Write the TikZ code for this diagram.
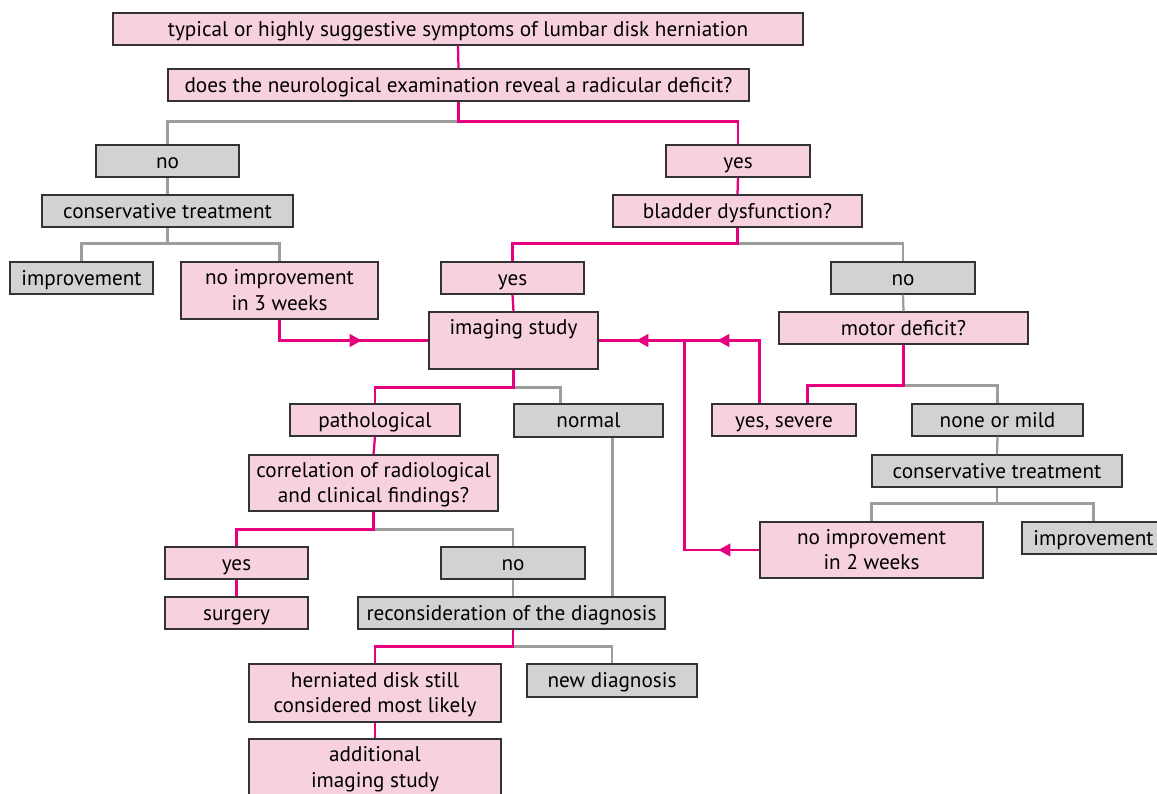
\documentclass[tikz,border=0pt]{standalone}
\usepackage{fontspec}
\setmainfont{PT Sans}
\usetikzlibrary{arrows.meta,decorations.markings,calc}

\definecolor{pinkfill}{HTML}{F7D1E0}
\definecolor{grayfill}{HTML}{D1D2D4}
\definecolor{magline}{HTML}{E6007E}
\definecolor{grayline}{HTML}{9D9D9D}
\definecolor{boxline}{HTML}{333333}

% a strut a little taller on top, so the text sits slightly low in its box
\newcommand\topstrut{\rule[-\dp\strutbox]{0pt}{\dimexpr\ht\strutbox+\dp\strutbox+3pt\relax}}

% box from its corners (x1,y1)-(x2,y2), in picture units
\newcommand\flowbox[7]{%
  \node[#1, minimum width={(#5-#3)*0.75pt}, minimum height={(#6-#4)*0.75pt}]
    (#2) at ({(#3+#5)/2},{(#4+#6)/2}) {\topstrut#7\strut};}

\tikzset{
  box/.style={draw=boxline, line width=0.9pt, inner sep=0pt, align=center,
    font=\fontsize{15.9}{18.9}\selectfont},
  pbox/.style={box, fill=pinkfill},
  gbox/.style={box, fill=grayfill},
  pl/.style={draw=magline, line width=1.7pt},
  gl/.style={draw=grayline, line width=1.7pt},
  arrow at/.style={postaction={decorate, decoration={markings,
    mark=at position #1 with {\arrow{Triangle[length=9pt,width=9.5pt]}}}}},
}

\begin{document}
\begin{tikzpicture}[x=0.75pt, y=-0.75pt]
\clip (0,0) rectangle (1157,793);

% ---- boxes ----
\flowbox{pbox}{top}{113}{13}{803}{45}{typical or highly suggestive symptoms of lumbar disk herniation}
\flowbox{pbox}{q}{168}{69}{749}{101}{does the neurological examination reveal a radicular deficit?}
\flowbox{gbox}{noL}{96}{145}{239}{177}{no}
\flowbox{pbox}{yesR}{666}{145}{810}{177}{yes}
\flowbox{gbox}{consL}{42}{195}{293}{227}{conservative treatment}
\flowbox{pbox}{bladder}{613}{195}{862}{227}{bladder dysfunction?}
\flowbox{gbox}{impL}{10}{262}{153}{294}{improvement}
\flowbox{pbox}{noimp3}{181}{262}{378}{319}{no improvement\\in 3 weeks}
\flowbox{pbox}{yesM}{441}{262}{584}{294}{yes}
\flowbox{gbox}{noR}{831}{262}{975}{294}{no}
\flowbox{pbox}{imaging}{429}{312}{598}{369}{imaging study\\\mbox{}}
\flowbox{pbox}{motor}{779}{312}{1028}{344}{motor deficit?}
\flowbox{pbox}{path}{290}{404}{460}{436}{pathological}
\flowbox{gbox}{normal}{514}{404}{663}{437}{normal}
\flowbox{pbox}{yesSev}{712}{404}{856}{436}{yes, severe}
\flowbox{gbox}{none}{912}{404}{1083}{436}{none or mild}
\flowbox{gbox}{consR}{872}{455}{1122}{487}{conservative treatment}
\flowbox{pbox}{corr}{249}{455}{498}{511}{correlation of radiological\\and clinical findings?}
\flowbox{pbox}{noimp2}{760}{522}{983}{578}{no improvement\\in 2 weeks}
\flowbox{gbox}{impR}{1022}{522}{1165}{554}{improvement}
\flowbox{pbox}{yesC}{165}{547}{308}{579}{yes}
\flowbox{gbox}{noC}{441}{547}{585}{579}{no}
\flowbox{pbox}{surgery}{165}{597}{308}{629}{surgery}
\flowbox{gbox}{recon}{358}{597}{665}{629}{reconsideration of the diagnosis}
\flowbox{pbox}{herni}{249}{664}{501}{722}{herniated disk still\\considered most likely}
\flowbox{gbox}{newdiag}{527}{664}{697}{697}{new diagnosis}
\flowbox{pbox}{addl}{249}{739}{501}{796}{additional\\imaging study}

% ---- grey connectors ----
\draw[gl] (q.south) ++(0,20) -| (noL.north);
\draw[gl] (noL.south) -- (consL.north);
\draw[gl] (consL.south) -- ++(0,16) -| (impL.north);
\draw[gl] (consL.south) ++(0,16) -| (noimp3.north);
\draw[gl] (bladder.south) ++(0,16) -| (noR.north);
\draw[gl] (noR.south) -- (motor.north);
\draw[gl] (imaging.south) ++(0,18) -| ($(normal.north west)+(47,0)$);
\draw[gl] (motor.south) ++(0,41) -| (none.north);
\draw[gl] (none.south) -- (consR.north);
\draw[gl] (consR.south) -- ++(0,16) -| (noimp2.north);
\draw[gl] (consR.south) ++(0,16) -| (impR.north);
\draw[gl] (corr.south) ++(0,18) -| (noC.north);
\draw[gl] (noC.south) -- (noC.south |- recon.north);
\coordinate (normdown) at ($(normal.south west)+(99,0)$);
\draw[gl] (normdown) -- (normdown |- recon.north);
\draw[gl] (noC.south |- recon.south) ++(0,17) -| (newdiag.north);

% ---- magenta connectors ----
\draw[pl] (top.south) -- (q.north);
\draw[pl] (q.south) -- ++(0,20) -| (yesR.north);
\draw[pl] (yesR.south) -- (bladder.north);
\draw[pl] (bladder.south) -- ++(0,16) -| (yesM.north);
\draw[pl] (yesM.south) -- (imaging.north);
\draw[pl, arrow at=77.25pt] (noimp3.south) |- (imaging.west);
\draw[pl] (imaging.south) -- ++(0,18) -| (path.north);
\draw[pl] (motor.south) -- ++(0,41) -| ($(yesSev.north west)+(96,0)$);
\draw[pl, arrow at=78.75pt, arrow at=139.5pt]
  ($(yesSev.north west)+(48,0)$) |- (imaging.east);
\draw[pl, arrow at=30.75pt] (noimp2.west) -| ($(imaging.east)+(86,0)$);
\draw[pl] (path.south) -- (corr.north);
\draw[pl] (corr.south) -- ++(0,18) -| (yesC.north);
\draw[pl] (yesC.south) -- (surgery.north);
\draw[pl] (noC.south |- recon.south) -- ++(0,17) -| (herni.north);
\draw[pl] (herni.south) -- (addl.north);
\end{tikzpicture}
\end{document}
